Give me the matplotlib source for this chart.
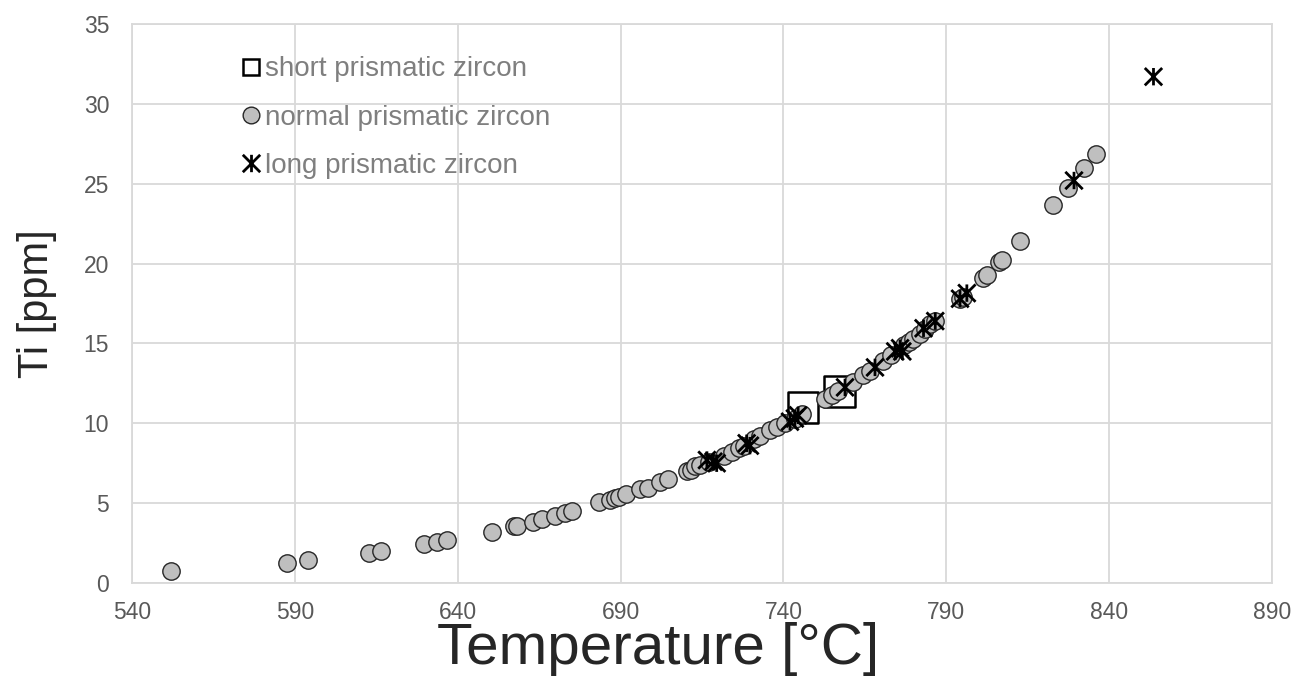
import numpy as np
import matplotlib
matplotlib.use("Agg")
import matplotlib.pyplot as plt
from matplotlib.path import Path
from matplotlib.lines import Line2D

plt.rcParams['font.family'] = ['Liberation Sans', 'DejaVu Sans']

# Temperature [°C] / Ti [ppm] for each zircon type
short_T = [746.0, 757.2]
short_Ti = [11.0, 12.0]

normal_T = [551.9, 587.5, 594.1, 612.7, 616.4, 629.7, 633.7, 636.6, 650.4, 657.3,
            658.1, 663.0, 665.8, 669.9, 672.9, 675.0, 683.5, 686.8, 688.3, 689.5,
            691.7, 696.0, 698.5, 702.1, 704.7, 710.3, 711.5, 712.9, 714.4, 717.0,
            721.6, 724.1, 726.2, 728.0, 731.0, 732.8, 735.9, 737.9, 740.5, 743.5,
            745.6, 752.8, 755.0, 756.6, 761.5, 764.5, 766.5, 770.7, 773.0, 777.0,
            778.5, 779.9, 781.9, 783.5, 785.0, 786.5, 794.2, 795.0, 801.4, 802.5,
            806.3, 807.0, 812.5, 822.8, 827.5, 832.4, 835.9]
normal_Ti = [0.75, 1.27, 1.44, 1.9, 2.02, 2.42, 2.57, 2.67, 3.21, 3.57,
             3.59, 3.84, 3.99, 4.2, 4.36, 4.5, 5.09, 5.2, 5.3, 5.4,
             5.55, 5.87, 5.97, 6.34, 6.51, 7.01, 7.1, 7.3, 7.4, 7.6,
             7.95, 8.22, 8.43, 8.6, 9.0, 9.2, 9.55, 9.75, 10.0, 10.3,
             10.6, 11.5, 11.8, 12.0, 12.6, 13.0, 13.3, 13.9, 14.3, 14.9,
             15.1, 15.3, 15.6, 15.9, 16.2, 16.4, 17.8, 17.9, 19.1, 19.3,
             20.1, 20.2, 21.4, 23.65, 24.75, 25.97, 26.84]

long_T = [716.5, 718.5, 719.5, 728.7, 729.7, 742.0, 743.5, 744.5, 758.9, 768.1,
          774.3, 775.8, 776.5, 783.0, 786.6, 794.2, 796.3, 829.2, 853.6]
long_Ti = [7.7, 7.6, 7.5, 8.75, 8.6, 10.1, 10.3, 10.5, 12.25, 13.5,
           14.5, 14.7, 14.5, 15.95, 16.4, 17.8, 18.15, 25.2, 31.7]

x_ticks = [540, 590, 640, 690, 740, 790, 840, 890]
y_ticks = [0, 5, 10, 15, 20, 25, 30, 35]

# Excel-style star marker: X with a vertical bar
star = Path([(-1, -1), (1, 1), (-1, 1), (1, -1), (0, -1), (0, 1)],
            [Path.MOVETO, Path.LINETO, Path.MOVETO, Path.LINETO, Path.MOVETO, Path.LINETO])

grey_txt = '#595959'
grid_c = '#d9d9d9'

fig = plt.figure(figsize=(13.02, 6.93), dpi=100)
ax = fig.add_axes([0.1014, 0.1587, 0.8756, 0.8067])

ax.scatter(short_T, short_Ti, marker='s', s=22**2, facecolors='none',
           edgecolors='black', linewidths=1.8, zorder=3)
ax.scatter(normal_T, normal_Ti, marker='o', s=12.5**2, facecolors='#bfbfbf',
           edgecolors='#262626', linewidths=1.0, zorder=4)
ax.scatter(long_T, long_Ti, marker=star, s=12.5**2, facecolors='none',
           edgecolors='black', linewidths=2.0, zorder=5)

ax.set_xlim(540, 890)
ax.set_ylim(0, 35)
ax.set_xticks(x_ticks)
ax.set_yticks(y_ticks)
ax.tick_params(length=0, labelsize=16.5, labelcolor=grey_txt)
ax.tick_params(axis='x', pad=13)
ax.tick_params(axis='y', pad=16.5)
ax.grid(True, color=grid_c, linewidth=1.3)
ax.set_axisbelow(True)
for sp in ax.spines.values():
    sp.set_color(grid_c)
    sp.set_linewidth(1.3)

# axis titles (x title centred on the whole chart, as in Excel)
fig.text(658 / 1302, 29 / 693, 'Temperature [°C]', fontsize=42, color='#262626',
         ha='center', va='baseline')
ax.set_ylabel('Ti [ppm]', fontsize=30, color='#262626', labelpad=19)

handles = [
    Line2D([], [], linestyle='none', marker='s', markersize=12, markerfacecolor='none',
           markeredgecolor='black', markeredgewidth=1.8),
    Line2D([], [], linestyle='none', marker='o', markersize=12, markerfacecolor='#bfbfbf',
           markeredgecolor='#262626', markeredgewidth=1.0),
    Line2D([], [], linestyle='none', marker=star, markersize=12.5, markerfacecolor='none',
           markeredgecolor='black', markeredgewidth=2.0),
]
labels = ['short prismatic zircon', 'normal prismatic zircon', 'long prismatic zircon']
leg = ax.legend(handles, labels, loc='upper left', bbox_to_anchor=(0.087, 0.962),
                frameon=False, fontsize=20, handlelength=0.6, handletextpad=0.2,
                labelspacing=0.8, borderaxespad=0)
for t in leg.get_texts():
    t.set_color('#7f7f7f')

fig.savefig('out.png', dpi=100)
